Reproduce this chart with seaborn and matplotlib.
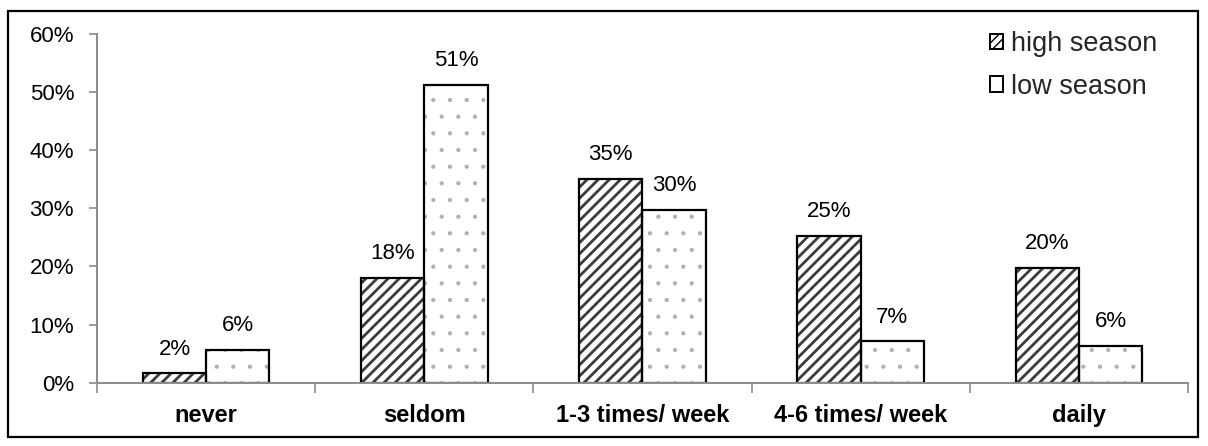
import matplotlib
matplotlib.use("Agg")
import matplotlib.pyplot as plt
from matplotlib.patches import Patch, Rectangle
from matplotlib.ticker import FixedLocator, FuncFormatter
import seaborn as sns
import pandas as pd

categories = ["never", "seldom", "1-3 times/ week", "4-6 times/ week", "daily"]
high_season = [1.6, 18.1, 35.1, 25.2, 19.7]
low_season = [5.6, 51.2, 29.8, 7.1, 6.3]
series_names = ["high season", "low season"]
y_ticks = [0, 10, 20, 30, 40, 50, 60]

df = pd.DataFrame({
    "frequency": categories * 2,
    "share": high_season + low_season,
    "season": [series_names[0]] * len(categories) + [series_names[1]] * len(categories),
})

sns.set_theme(style="white")
plt.rcParams["font.family"] = ["Liberation Sans", "DejaVu Sans"]
plt.rcParams["hatch.linewidth"] = 1.0

fig = plt.figure(figsize=(12.08, 4.46), dpi=100)
ax = fig.add_axes([0.0803, 0.1419, 0.9031, 0.7819])

hatches = {"high season": "///", "low season": "."}
hatch_colors = {"high season": "#3c3c3c", "low season": "#b0b0b0"}
hatch_widths = {"high season": 2.0, "low season": 0.6}

# Hatched fill layer: hatch colour follows the edge colour, so the outline is drawn separately
sns.barplot(data=df, x="frequency", y="share", hue="season", order=categories,
            hue_order=series_names, width=0.58, gap=0, palette=["white", "white"],
            legend=False, ax=ax, linewidth=0)
n = len(categories)
for i, bar in enumerate(ax.patches[: 2 * n]):
    name = series_names[i // n]
    bar.set_hatch(hatches[name])
    bar.set_edgecolor(hatch_colors[name])
    bar.set_linewidth(0)
    if hasattr(bar, "set_hatch_linewidth"):
        bar.set_hatch_linewidth(hatch_widths[name])

# Black outline layer on top
sns.barplot(data=df, x="frequency", y="share", hue="season", order=categories,
            hue_order=series_names, width=0.58, gap=0, fill=False,
            palette=["black", "black"], legend=False, ax=ax, linewidth=1.6)

for cont in ax.containers[2:]:
    ax.bar_label(cont, fmt="%.0f%%", padding=10, fontsize=16, color="black")

ax.set_ylim(0, 60)
ax.set_xlim(-0.5, n - 0.5)
ax.yaxis.set_major_locator(FixedLocator(y_ticks))
ax.yaxis.set_major_formatter(FuncFormatter(lambda v, p: f"{v:.0f}%"))
ax.tick_params(axis="y", which="major", length=6, width=1.2, color="#8c8c8c",
               labelsize=16, pad=10.5, left=True, labelcolor="black")
ax.set_xticks(range(n))
ax.set_xticklabels(categories, fontweight="bold", fontsize=17)
ax.xaxis.set_minor_locator(FixedLocator([i - 0.5 for i in range(n + 1)]))
ax.tick_params(axis="x", which="major", length=0, pad=15, labelcolor="black")
ax.tick_params(axis="x", which="minor", length=7, width=1.2, color="#8c8c8c",
               bottom=True, direction="out")
ax.set_xlabel("")
ax.set_ylabel("")
for side in ["top", "right"]:
    ax.spines[side].set_visible(False)
for side in ["left", "bottom"]:
    ax.spines[side].set_color("#8c8c8c")
    ax.spines[side].set_linewidth(1.4)

handles = [Patch(facecolor="white", edgecolor="black", hatch="////", linewidth=1.4, label=series_names[0]),
           Patch(facecolor="white", edgecolor="black", linewidth=1.4, label=series_names[1])]
ax.legend(handles=handles, loc="upper right", bbox_to_anchor=(0.982, 1.04), frameon=False,
          fontsize=19.5, handlelength=0.5, handleheight=0.5, handletextpad=0.3,
          labelspacing=0.62, borderaxespad=0)

fig.patches.append(Rectangle((8 / 1208, 9 / 446), 1190 / 1208, 426 / 446,
                             transform=fig.transFigure, fill=False,
                             edgecolor="black", linewidth=1.6))

fig.savefig("out.png", dpi=100)
